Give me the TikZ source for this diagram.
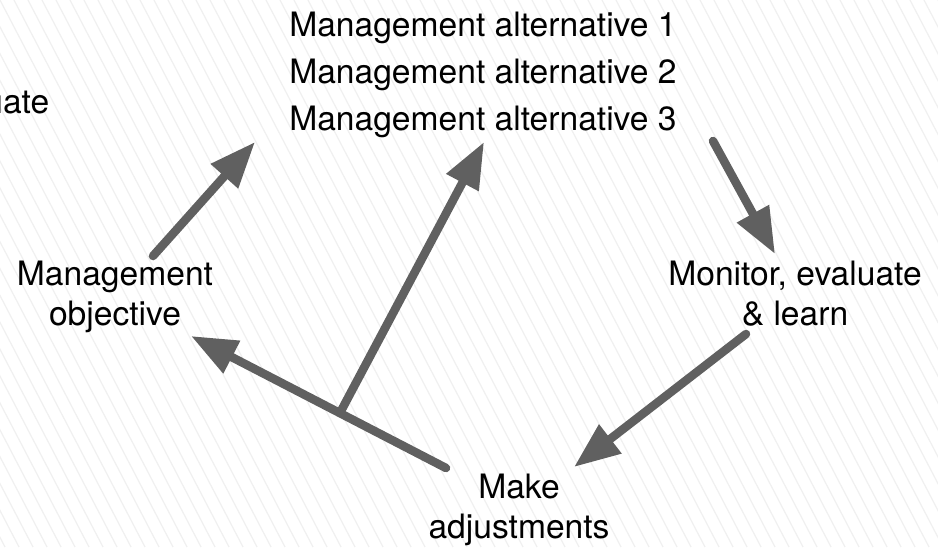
\documentclass[tikz,border=0pt]{standalone}
\usepackage{fontspec}
\setmainfont{TeX Gyre Heros}
\usetikzlibrary{arrows.meta}
\definecolor{arrowgrey}{RGB}{96,96,96}
\definecolor{stripegrey}{RGB}{240,240,240}
\tikzset{
  flow/.style={draw=arrowgrey,line width=6.4pt,line cap=round,-{Stealth[length=34.5pt,width=26pt,inset=0pt]}},
  label/.style={font=\fontsize{25.2pt}{30pt}\selectfont,text=black,inner sep=0pt,align=center,anchor=center,text height=18pt,text depth=6pt},
  stripe/.style={draw=stripegrey,line width=0.9pt}
}
\begin{document}
\begin{tikzpicture}[x=0.75pt,y=-0.75pt]
\useasboundingbox (0,0) rectangle (938,547);
\clip (0,0) rectangle (938,547);
\fill[white] (0,0) rectangle (938,547);
\foreach \k in {-30,...,80}{
  \draw[stripe] ({\k*14},0) -- ({\k*14+285},547);
}
\node[label,anchor=base west] (alt1) at (289,36) {Management alternative 1};
\node[label,anchor=base west] (alt2) at (289,83) {Management alternative 2};
\node[label,anchor=base west] (alt3) at (289,130) {Management alternative 3};
\node[label,anchor=base east] (eval) at (49.5,113) {Evaluate};
\node[label] (obj) at (115,317) {Management\\objective};
\node[label] (mon) at (795,317) {Monitor, evaluate\\\& learn};
\node[label] (adj) at (519,530) {Make\\adjustments};
\coordinate (objout) at (153,256);
\coordinate (altin) at (255,142);
\coordinate (junction) at (341,411);
\coordinate (alt3in) at (484,142);
\coordinate (alt3out) at (713,141);
\coordinate (monin) at (775,254);
\coordinate (monout) at (746,334);
\coordinate (adjin) at (574,467);
\coordinate (adjout) at (446,468);
\coordinate (objin) at (191,336);
\draw[flow] (objout) -- (altin);
\draw[flow] (junction) -- (alt3in);
\draw[flow] (alt3out) -- (monin);
\draw[flow] (monout) -- (adjin);
\draw[flow] (adjout) -- (objin);
\end{tikzpicture}
\end{document}
